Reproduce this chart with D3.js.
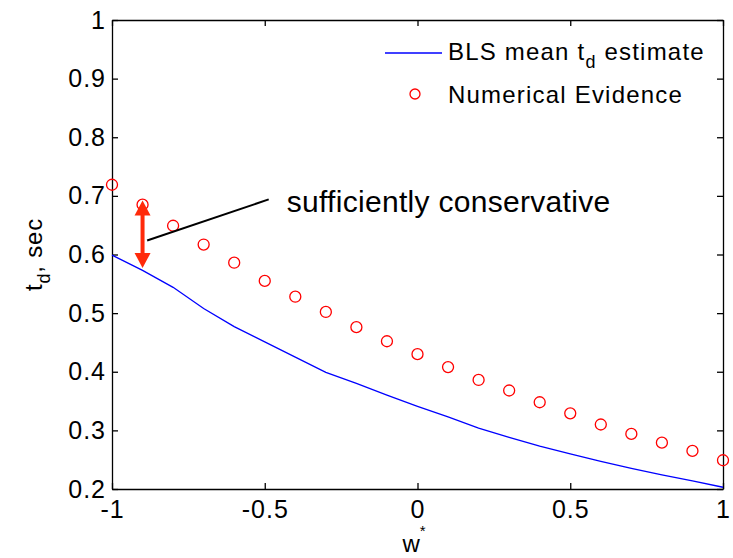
<!DOCTYPE html>
<html>
<head>
<meta charset="utf-8">
<script src="https://cdn.jsdelivr.net/npm/d3@7"></script>
<style>
  body { margin: 0; background: #fff; }
  svg { display: block; }
  text { font-family: "Liberation Sans", Arial, sans-serif; fill: #000; }
  .axis path, .axis line { stroke: #000; stroke-width: 1.3; }
  .axis text { font-size: 25px; letter-spacing: 1px; }
</style>
</head>
<body>
<div id="chart"></div>
<script>

// w* positions
var wStar = [-1, -0.9, -0.8, -0.7, -0.6, -0.5, -0.4, -0.3, -0.2, -0.1, 0,
             0.1, 0.2, 0.3, 0.4, 0.5, 0.6, 0.7, 0.8, 0.9, 1];

// BLS mean t_d estimate (blue line)
var blsMean = [0.599, 0.573, 0.544, 0.508, 0.477, 0.451, 0.425, 0.399, 0.380, 0.360, 0.341,
               0.323, 0.304, 0.288, 0.273, 0.260, 0.247, 0.235, 0.224, 0.214, 0.203];

// Numerical evidence (red circles)
var numEvidence = [0.719, 0.685, 0.649, 0.617, 0.586, 0.555, 0.528, 0.502, 0.476, 0.452, 0.430,
                   0.408, 0.386, 0.368, 0.348, 0.329, 0.310, 0.294, 0.279, 0.265, 0.249];

var xTicks = [-1, -0.5, 0, 0.5, 1];
var yTicks = [0.2, 0.3, 0.4, 0.5, 0.6, 0.7, 0.8, 0.9, 1];

// annotation: arrow between the two curves and its callout
var arrowX = -0.9, arrowTop = 0.692, arrowBottom = 0.577;
var calloutFrom = [-0.885, 0.624], calloutTo = [-0.487, 0.694];
var calloutText = "sufficiently conservative";

var margin = {top: 20, right: 10, bottom: 69, left: 112},
    width = 733 - margin.left - margin.right,
    height = 558 - margin.top - margin.bottom;

var x = d3.scaleLinear().domain([-1, 1]).range([0, width]);
var y = d3.scaleLinear().domain([0.2, 1]).range([height, 0]);

var fmt = function(d) { return String(d); };   // plain hyphen minus, like MATLAB

var svg = d3.select("#chart").append("svg")
    .attr("width", 733).attr("height", 558)
  .append("g")
    .attr("transform", "translate(" + margin.left + "," + margin.top + ")");

// axes, ticks pointing inward on all four sides
svg.append("g").attr("class", "axis")
    .attr("transform", "translate(0," + height + ")")
    .call(d3.axisBottom(x).tickValues(xTicks).tickFormat(fmt)
          .tickSizeInner(-6).tickSizeOuter(0).tickPadding(11));
svg.append("g").attr("class", "axis")
    .call(d3.axisTop(x).tickValues(xTicks).tickFormat("")
          .tickSizeInner(-6).tickSizeOuter(0));
svg.append("g").attr("class", "axis")
    .call(d3.axisLeft(y).tickValues(yTicks).tickFormat(fmt)
          .tickSizeInner(-6).tickSizeOuter(0).tickPadding(6));
svg.append("g").attr("class", "axis")
    .attr("transform", "translate(" + width + ",0)")
    .call(d3.axisRight(y).tickValues(yTicks).tickFormat("")
          .tickSizeInner(-6).tickSizeOuter(0));

// BLS line
var line = d3.line()
    .x(function(d, i) { return x(wStar[i]); })
    .y(function(d) { return y(d); });

svg.append("path")
    .attr("d", line(blsMean))
    .attr("fill", "none")
    .attr("stroke", "#0000ff")
    .attr("stroke-width", 1.3);

// numerical evidence circles
svg.selectAll(".pt")
    .data(numEvidence)
  .enter().append("circle")
    .attr("class", "pt")
    .attr("cx", function(d, i) { return x(wStar[i]); })
    .attr("cy", function(d) { return y(d); })
    .attr("r", 5.5)
    .attr("fill", "none")
    .attr("stroke", "#ff0000")
    .attr("stroke-width", 1.3);

// red double arrow
var ax = x(arrowX), ay0 = y(arrowTop), ay1 = y(arrowBottom);
var headW = 8, headL = 15, red = "#ff2a0a";
svg.append("line")
    .attr("x1", ax).attr("x2", ax)
    .attr("y1", ay0 + headL - 1).attr("y2", ay1 - headL + 1)
    .attr("stroke", red).attr("stroke-width", 4);
svg.append("path")
    .attr("d", "M" + ax + "," + ay0 + "L" + (ax - headW) + "," + (ay0 + headL) +
               "L" + (ax + headW) + "," + (ay0 + headL) + "Z")
    .attr("fill", red);
svg.append("path")
    .attr("d", "M" + ax + "," + ay1 + "L" + (ax - headW) + "," + (ay1 - headL) +
               "L" + (ax + headW) + "," + (ay1 - headL) + "Z")
    .attr("fill", red);

// callout line and text
svg.append("line")
    .attr("x1", x(calloutFrom[0])).attr("y1", y(calloutFrom[1]))
    .attr("x2", x(calloutTo[0])).attr("y2", y(calloutTo[1]))
    .attr("stroke", "#000").attr("stroke-width", 2);
svg.append("text")
    .attr("x", x(calloutTo[0]) + 18)
    .attr("y", y(calloutTo[1]) + 13)
    .style("font-size", "30px")
    .style("letter-spacing", "0.3px")
    .text(calloutText);

// legend (no box)
var legend = svg.append("g").attr("transform", "translate(" + (385 - margin.left) + "," + (53 - margin.top) + ")");
legend.append("line")
    .attr("x1", 0).attr("x2", 57).attr("y1", 0).attr("y2", 0)
    .attr("stroke", "#0000ff").attr("stroke-width", 1.3);
var t1 = legend.append("text").attr("x", 63).attr("y", 7)
    .style("font-size", "24px").style("letter-spacing", "1.2px");
t1.append("tspan").text("BLS mean t");
t1.append("tspan").attr("dy", 8).style("font-size", "18px").text("d");
t1.append("tspan").attr("dy", -8).text(" estimate");
legend.append("circle")
    .attr("cx", 30).attr("cy", 41).attr("r", 5)
    .attr("fill", "none").attr("stroke", "#ff0000").attr("stroke-width", 1.3);
legend.append("text").attr("x", 63).attr("y", 50)
    .style("font-size", "24px").style("letter-spacing", "1.2px")
    .text("Numerical Evidence");

// axis labels
var yl = svg.append("text")
    .attr("transform", "translate(" + (42 - margin.left) + "," + (height / 2) + ") rotate(-90)")
    .attr("text-anchor", "middle")
    .style("font-size", "24px").style("letter-spacing", "0.8px");
yl.append("tspan").text("t");
yl.append("tspan").attr("dy", 8).style("font-size", "18px").text("d");
yl.append("tspan").attr("dy", -8).text(", sec");

var xl = svg.append("text")
    .attr("x", width / 2 - 15)
    .attr("y", height + 63)
    .style("font-size", "24px");
xl.append("tspan").text("w");
xl.append("tspan").attr("dy", -16).style("font-size", "15px").text("*");

</script>
</body>
</html>
